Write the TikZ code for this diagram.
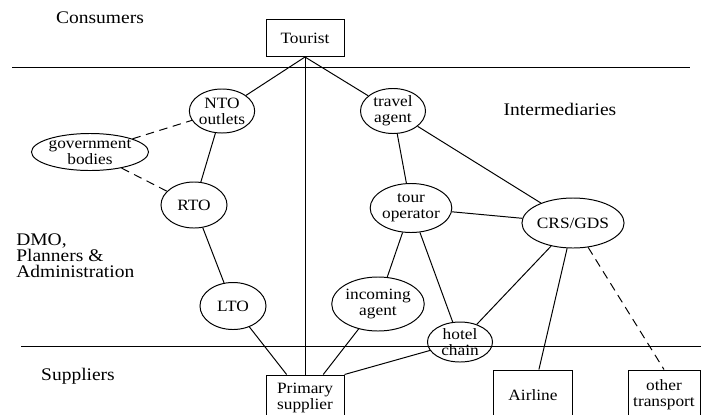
\documentclass[tikz,border=0pt]{standalone}
\usepackage{fontspec}
\setmainfont{Liberation Serif}[FakeStretch=1.1]
\usepackage{tikz}
\usetikzlibrary{shapes.geometric, positioning}

\begin{document}
\begin{tikzpicture}[x=0.025cm,y=-0.025cm]
\tikzstyle{every node}+=[inner sep=0pt]
\tikzstyle{oval}=[draw, ellipse, line width=0.7pt, align=center, font=\fontsize{11.2}{11.5}\selectfont]
\tikzstyle{board}=[draw, rectangle, line width=0.7pt, align=center, minimum width=1.95cm, font=\fontsize{11.2}{11.5}\selectfont]
\tikzstyle{lbl}=[font=\fontsize{12.6}{11.5}\selectfont]
\tikzstyle{link}=[line width=0.7pt]
\tikzstyle{loose}=[line width=0.7pt, dash pattern=on 6pt off 4pt]
\clip (0,0) rectangle (701,414);
\node [lbl] (consumers) at (100,18) {Consumers};
\node [lbl] (intermed) at (560,109) {Intermediaries};
\node [lbl, align=left, anchor=west] (dmo) at (16,256) {DMO,\\Planners \&\\Administration};
\node [lbl] (suppliers) at (78,376) {Suppliers};
\draw [line width=0.7pt] (12,67) -- (690,67);
\draw [line width=0.7pt] (21,346) -- (701,346);
\node [board, minimum height=0.925cm] (tourist) at (305,38) {Tourist};
\node [board, minimum height=1.15cm] (prim) at (305,398) {Primary\\supplier};
\node [board, minimum width=1.975cm, minimum height=1.25cm] (air) at (533,395) {Airline};
\node [board, minimum width=1.8cm, minimum height=1.25cm] (oth) at (664,395) {other\\transport};
\node [oval, minimum width=1.425cm, minimum height=1.1cm] (nto) at (222,111) {NTO\\outlets};
\node [oval, minimum width=2.475cm, minimum height=0.925cm] (gov) at (90,152) {government\\bodies};
\node [oval, minimum width=1.65cm, minimum height=1.15cm] (rto) at (194,205) {RTO};
\node [oval, minimum width=1.65cm, minimum height=1.175cm] (lto) at (233,306) {LTO};
\node [oval, minimum width=1.625cm, minimum height=1.125cm] (ta) at (393,111) {travel\\agent};
\node [oval, minimum width=1.775cm, minimum height=1.225cm] (tour) at (411,208) {tour\\operator};
\node [oval, minimum width=1.95cm, minimum height=1.25cm] (crs) at (573,223) {CRS/GDS};
\node [oval, minimum width=2.0cm, minimum height=1.35cm] (inc) at (378,304) {incoming\\agent};
\node [oval, minimum width=1.625cm, minimum height=1.0cm] (hotel) at (460,342) {hotel\\chain};
\draw [link] (tourist.south) -- (nto);
\draw [link] (tourist.south) -- (ta);
\draw [link] (tourist.south) -- (prim.north);
\draw [link] (nto) -- (rto);
\draw [loose] (gov) -- (nto);
\draw [loose] (gov) -- (rto);
\draw [link] (rto) -- (lto);
\draw [link] (lto) -- (prim);
\draw [link] (ta) -- (tour);
\draw [link] (ta) -- (crs);
\draw [link] (tour) -- (crs);
\draw [link] (tour) -- (inc);
\draw [link] (tour) -- (hotel);
\draw [link] (inc) -- (prim);
\draw [link] (hotel) -- (prim.north east);
\draw [link] (crs) -- (hotel);
\draw [link] (crs) -- (air);
\draw [loose] (crs) -- (oth.north);
\end{tikzpicture}
\end{document}
